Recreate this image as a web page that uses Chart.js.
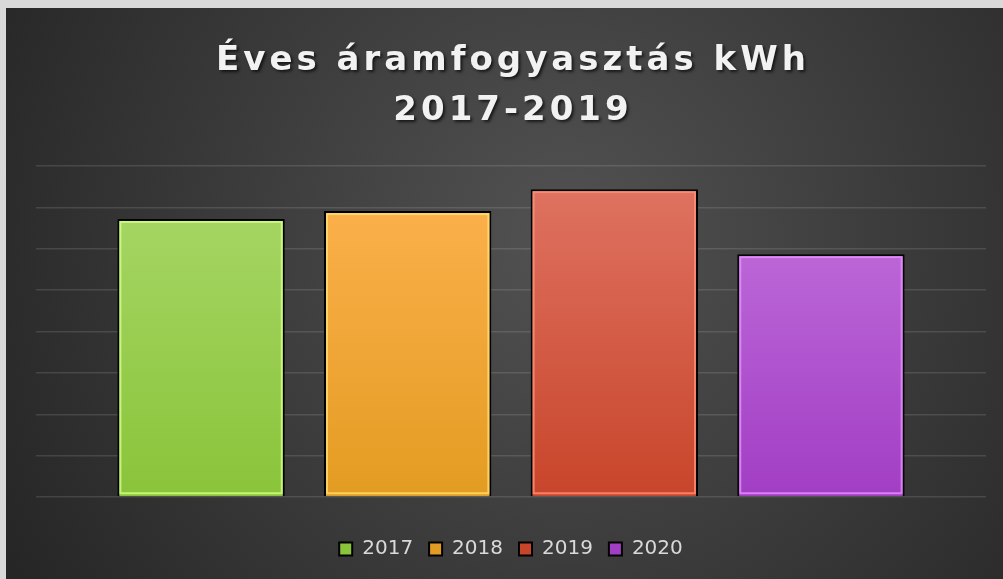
<!DOCTYPE html>
<html>
<head>
<meta charset="utf-8">
<script src="https://cdn.jsdelivr.net/npm/chart.js@4"></script>
<style>
  html, body { margin: 0; padding: 0; background: #d9d9d9; }
  #wrap { position: absolute; left: 6px; top: 8px; width: 997px; height: 571px; }
</style>
</head>
<body>
<div id="wrap"><canvas id="energyCanvas"></canvas></div>
<script>
// adatok
const titleLines = ['Éves áramfogyasztás kWh', '2017-2019'];
const categories = [''];
const years = ['2017', '2018', '2019', '2020'];
const consumption = [6720, 6910, 7440, 5870];
const yTicks = [0, 1000, 2000, 3000, 4000, 5000, 6000, 7000, 8000];

// színek (felső, alsó, belső keret)
const topColors = ['#a9d86a', '#ffb250', '#e07565', '#c474de'];
const bottomColors = ['#8ac43a', '#e39c22', '#c8452a', '#a23ec4'];
const edgeColors = ['#d4ff88', '#ffde70', '#ff9078', '#e890ff'];

function barFill(i) {
    return function(context) {
        const chart = context.chart;
        const area = chart.chartArea;
        if (!area) return topColors[i];
        const g = chart.ctx.createLinearGradient(0, area.top, 0, area.bottom);
        g.addColorStop(0, topColors[i]);
        g.addColorStop(1, bottomColors[i]);
        return g;
    };
}

const backgroundPlugin = {
    id: 'bg',
    beforeDraw(chart) {
        const ctx = chart.ctx;
        const w = chart.width, h = chart.height;
        const g = ctx.createRadialGradient(560, 230, 0, 560, 230, 640);
        g.addColorStop(0, '#525252');
        g.addColorStop(1, '#262626');
        ctx.save();
        ctx.fillStyle = g;
        ctx.fillRect(0, 0, w, h);
        ctx.restore();
    }
};

// belső világos keret a hasábokon
const edgePlugin = {
    id: 'edges',
    afterDatasetsDraw(chart) {
        const ctx = chart.ctx;
        chart.data.datasets.forEach((ds, i) => {
            chart.getDatasetMeta(i).data.forEach(bar => {
                const left = bar.x - bar.width / 2;
                ctx.save();
                ctx.strokeStyle = edgeColors[i];
                ctx.globalAlpha = 0.8;
                ctx.lineWidth = 2;
                ctx.strokeRect(left + 3, bar.y + 3, bar.width - 6, bar.base - bar.y - 6);
                ctx.restore();
            });
        });
    }
};

const titlePlugin = {
    id: 'spacedTitle',
    afterDraw(chart) {
        const ctx = chart.ctx;
        const cx = (chart.chartArea.left + chart.chartArea.right) / 2;
        ctx.save();
        ctx.font = 'bold 34px "DejaVu Sans"';
        ctx.letterSpacing = '4px';
        ctx.textAlign = 'center';
        ctx.textBaseline = 'alphabetic';
        ctx.fillStyle = '#f2f2f2';
        ctx.shadowColor = 'rgba(0,0,0,0.65)';
        ctx.shadowOffsetX = 2;
        ctx.shadowOffsetY = 2;
        ctx.shadowBlur = 3;
        ctx.fillText(titleLines[0], cx + 2, 62);
        ctx.fillText(titleLines[1], cx + 2, 112);
        ctx.restore();
    }
};

const canvas = document.getElementById('energyCanvas');

const energyChart = new Chart(canvas, {
    type: 'bar',
    data: {
        labels: categories,
        datasets: years.map((y, i) => ({
            label: y,
            data: [consumption[i]],
            backgroundColor: barFill(i),
            borderColor: '#000000',
            borderWidth: 2,
            categoryPercentage: 0.87,
            barPercentage: 0.81
        }))
    },
    options: {
        responsive: true,
        maintainAspectRatio: false,
        animation: false,
        layout: {
            padding: { left: 30, right: 17, top: 158, bottom: 10 }
        },
        scales: {
            x: { display: false },
            y: {
                min: yTicks[0],
                max: yTicks[yTicks.length - 1],
                afterBuildTicks: axis => { axis.ticks = yTicks.map(v => ({ value: v })); },
                ticks: { display: false },
                border: { display: false },
                grid: { color: 'rgba(255,255,255,0.12)', lineWidth: 1.5, drawTicks: false }
            }
        },
        plugins: {
            title: { display: false },
            tooltip: { enabled: false },
            legend: {
                position: 'bottom',
                title: { display: true, text: ' ', font: { size: 10 }, padding: { top: 0, bottom: 14 } },
                labels: {
                    color: '#d9d9d9',
                    font: { family: '"DejaVu Sans"', size: 20 },
                    boxWidth: 13,
                    boxHeight: 13,
                    padding: 16
                }
            }
        }
    },
    plugins: [backgroundPlugin, edgePlugin, titlePlugin]
});
</script>
</body>
</html>
